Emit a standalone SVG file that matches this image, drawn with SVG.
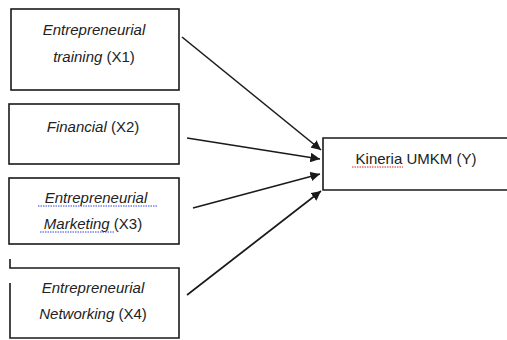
<svg xmlns="http://www.w3.org/2000/svg" width="507" height="340" viewBox="0 0 507 340">
<style>
.box{fill:#fff;stroke:#1a1a1a;stroke-width:1.6}
.t{font-family:"Liberation Sans",Arial,sans-serif;font-size:15px;fill:#222;text-anchor:middle}
.i{font-style:italic}
.con{stroke:#1a1a1a;stroke-width:1.6;fill:none;marker-end:url(#ah)}
.sqb{fill:none;stroke:#3344dd;stroke-width:1;stroke-dasharray:1.5 1}
.sqr{fill:none;stroke:#dd2222;stroke-width:1;stroke-dasharray:1.5 1}
</style>
<defs>
<marker id="ah" viewBox="0 0 10 10" refX="10" refY="5" markerWidth="6" markerHeight="6" orient="auto" markerUnits="strokeWidth">
<path d="M0,0 L10,5 L0,10 z" fill="#1a1a1a"/>
</marker>
</defs>
<rect width="507" height="340" fill="#fff"/>
<g id="x1">
<rect class="box" x="11" y="9" width="168" height="81"/>
<text class="t i" x="94" y="35">Entrepreneurial</text>
<text class="t" x="94" y="62"><tspan class="i">training</tspan> (X1)</text>
</g>
<g id="x2">
<rect class="box" x="9" y="104" width="170" height="60"/>
<text class="t" x="93" y="132"><tspan class="i">Financial</tspan> (X2)</text>
</g>
<g id="x3">
<rect class="box" x="9" y="178" width="170" height="66"/>
<text class="t i" x="96" y="203">Entrepreneurial</text>
<text class="t" x="93" y="229"><tspan class="i">Marketing</tspan> (X3)</text>
<path class="sqb" d="M38,206 H158"/>
<path class="sqb" d="M40,232 H115"/>
</g>
<g id="x4">
<path class="box" d="M10,259 V268 H179 V338 H10 V283" fill="none"/>
<text class="t i" x="93" y="293">Entrepreneurial</text>
<text class="t" x="93" y="319"><tspan class="i">Networking</tspan> (X4)</text>
</g>
<g id="y">
<path class="box" d="M509,138 H323 V190 H509"/>
<text class="t" x="416" y="164">Kineria UMKM (Y)</text>
<path class="sqr" d="M352,167 H403"/>
</g>
<g id="connectors">
<line class="con" x1="182" y1="37" x2="321" y2="150"/>
<line class="con" x1="187" y1="138" x2="320" y2="159"/>
<line class="con" x1="193" y1="208" x2="320" y2="174"/>
<line class="con" x1="187" y1="295" x2="321" y2="191"/>
</g>
</svg>
